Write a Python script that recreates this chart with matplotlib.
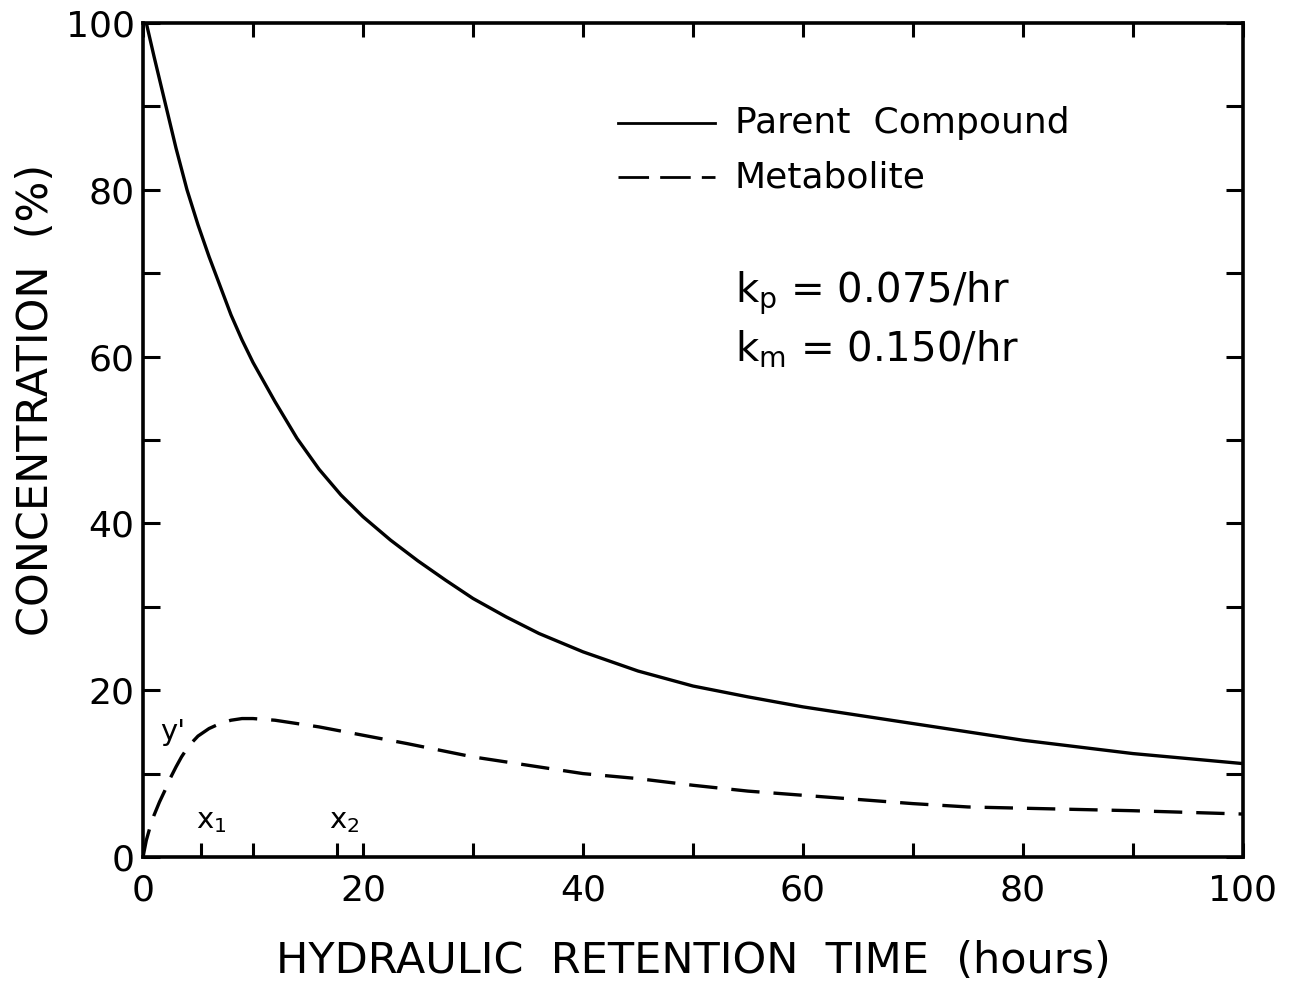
import matplotlib
matplotlib.use("Agg")
import matplotlib.pyplot as plt
from matplotlib.ticker import MultipleLocator, FixedLocator

# Parent compound concentration (%) vs hydraulic retention time (hours)
parent_t = [0.3, 1, 2, 3, 4, 5, 6, 7, 8, 9, 10, 12, 14, 16, 18, 20, 22.5, 25,
            27.5, 30, 33, 36, 40, 45, 50, 55, 60, 65, 70, 75, 80, 85, 90, 95, 100]
parent_c = [100, 96, 90.5, 85, 80, 75.8, 72, 68.5, 65, 62, 59.3, 54.6, 50.2, 46.5,
            43.4, 40.8, 38, 35.5, 33.2, 31, 28.8, 26.8, 24.6, 22.3, 20.5, 19.2,
            18.0, 17.0, 16.0, 15.0, 14.0, 13.2, 12.4, 11.8, 11.2]

# Metabolite concentration (%)
metab_t = [0, 0.3, 0.6, 1, 1.5, 2, 2.5, 3, 3.5, 4, 4.5, 5, 6, 7, 8, 9, 10, 11,
           12, 14, 16, 18, 20, 22, 24, 27, 30, 35, 40, 45, 50, 55, 60, 65, 70,
           75, 80, 85, 90, 95, 100]
metab_c = [0, 2.0, 3.4, 5.0, 6.6, 8.0, 9.5, 10.8, 12.0, 13.0, 13.8, 14.5, 15.4,
           16.0, 16.4, 16.6, 16.6, 16.5, 16.4, 16.0, 15.6, 15.1, 14.6, 14.1, 13.6,
           12.8, 12.0, 11.0, 10.0, 9.4, 8.6, 7.9, 7.4, 6.9, 6.4, 6.0, 5.85, 5.7,
           5.55, 5.35, 5.15]

x_major = [0, 20, 40, 60, 80, 100]
y_major = [0, 20, 40, 60, 80, 100]
x_marks = [5.3, 17.6]          # positions of x1 and x2 on the time axis

plt.rcParams['font.family'] = ['DejaVu Sans']
plt.rcParams['mathtext.default'] = 'regular'

fig = plt.figure(figsize=(12.89, 9.82), dpi=100)
ax = fig.add_axes([143 / 1289, 1 - 857 / 982, 1100 / 1289, 834 / 982])

ax.plot(parent_t, parent_c, color='black', lw=2.4,
        solid_capstyle='round', solid_joinstyle='round')
ax.plot(metab_t, metab_c, color='black', lw=2.4, dashes=(8.5, 4.2))

ax.set_xlim(0, 100)
ax.set_ylim(0, 100)

for s in ax.spines.values():
    s.set_linewidth(2.6)

ax.xaxis.set_major_locator(FixedLocator(x_major))
ax.xaxis.set_minor_locator(MultipleLocator(10))
ax.yaxis.set_major_locator(FixedLocator(y_major))
ax.yaxis.set_minor_locator(MultipleLocator(10))
ax.tick_params(axis='both', which='both', direction='in', width=2.2,
               top=True, right=True)
ax.tick_params(axis='x', which='both', length=10)
ax.tick_params(axis='y', which='both', length=12)
ax.tick_params(axis='x', which='major', labelsize=26, pad=12)
ax.tick_params(axis='y', which='major', labelsize=26, pad=6)

# extra reference marks for x1 and x2 on the bottom axis only
sec = ax.secondary_xaxis('bottom')
sec.xaxis.set_major_locator(FixedLocator(x_marks))
sec.tick_params(direction='in', length=10, width=2.2, labelbottom=False)
sec.spines['bottom'].set_visible(False)

ax.set_xlabel('HYDRAULIC  RETENTION  TIME  (hours)', fontsize=31, va='center')
ax.xaxis.set_label_coords(0.5, -0.125)
ax.set_ylabel('CONCENTRATION  (%)', fontsize=31, va='center')
ax.yaxis.set_label_coords(-0.097, 0.548)

# legend drawn as annotation lines and text
ax.plot([43.2, 52.0], [88.0, 88.0], color='black', lw=2.0)
ax.plot([43.2, 52.0], [81.5, 81.5], color='black', lw=2.0, dashes=(11, 4))
ax.text(53.8, 88.0, 'Parent  Compound', fontsize=26, va='center', ha='left')
ax.text(53.8, 81.5, 'Metabolite', fontsize=26, va='center', ha='left')

ax.text(53.8, 67.6, r'$k_p$ = 0.075/hr', fontsize=29, va='center', ha='left')
ax.text(53.8, 60.8, r'$k_m$ = 0.150/hr', fontsize=29, va='center', ha='left')

ax.text(1.6, 15.0, "y'", fontsize=21, va='center', ha='left')
ax.text(4.8, 4.3, r'$x_1$', fontsize=21, va='center', ha='left')
ax.text(16.9, 4.3, r'$x_2$', fontsize=21, va='center', ha='left')

fig.savefig('out.png', dpi=100)
